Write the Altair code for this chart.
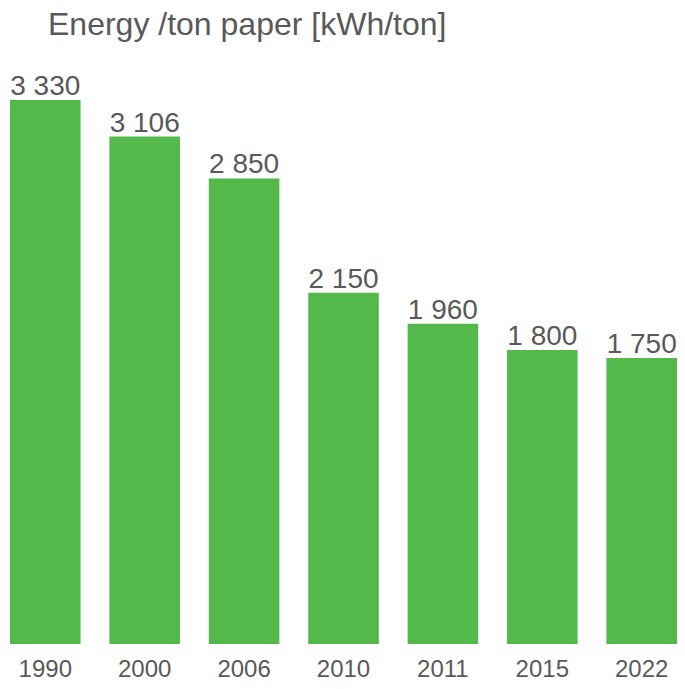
import altair as alt
import pandas as pd

years = ["1990", "2000", "2006", "2010", "2011", "2015", "2022"]
energy = [3330, 3106, 2850, 2150, 1960, 1800, 1750]

df = pd.DataFrame({"year": years, "energy": energy})

GREEN = "#53b94a"
GRAY = "#595959"
FONT = "Liberation Sans"

base = alt.Chart(df).encode(
    x=alt.X("year:N", sort=years,
            scale=alt.Scale(range=[2, 669], paddingInner=0.29, paddingOuter=0),
            axis=alt.Axis(title=None, domain=False, ticks=False, labelAngle=0,
                          labelFont=FONT, labelFontSize=24, labelColor=GRAY,
                          labelPadding=13)),
    y=alt.Y("energy:Q", scale=alt.Scale(domain=[0, 3330], nice=False, zero=True),
            axis=None),
)

bars = base.mark_bar(color=GREEN)
labels = base.transform_calculate(
    lab="replace(format(datum.energy, ','), ',', ' ')"
).mark_text(baseline="alphabetic", dy=-5, font=FONT, fontSize=28, color=GRAY).encode(
    text="lab:N"
)

chart = (bars + labels).properties(
    width=669, height=544,
    autosize="none",
    padding={"left": 0, "top": 92, "right": 0, "bottom": 37},
    title=alt.TitleParams("Energy /ton paper [kWh/ton]", anchor="start", dx=40,
                          offset=31, font=FONT, fontSize=32, fontWeight="normal",
                          color=GRAY),
).configure_view(stroke=None)

chart.save("out.html", embed_options={"renderer": "svg", "actions": False})
